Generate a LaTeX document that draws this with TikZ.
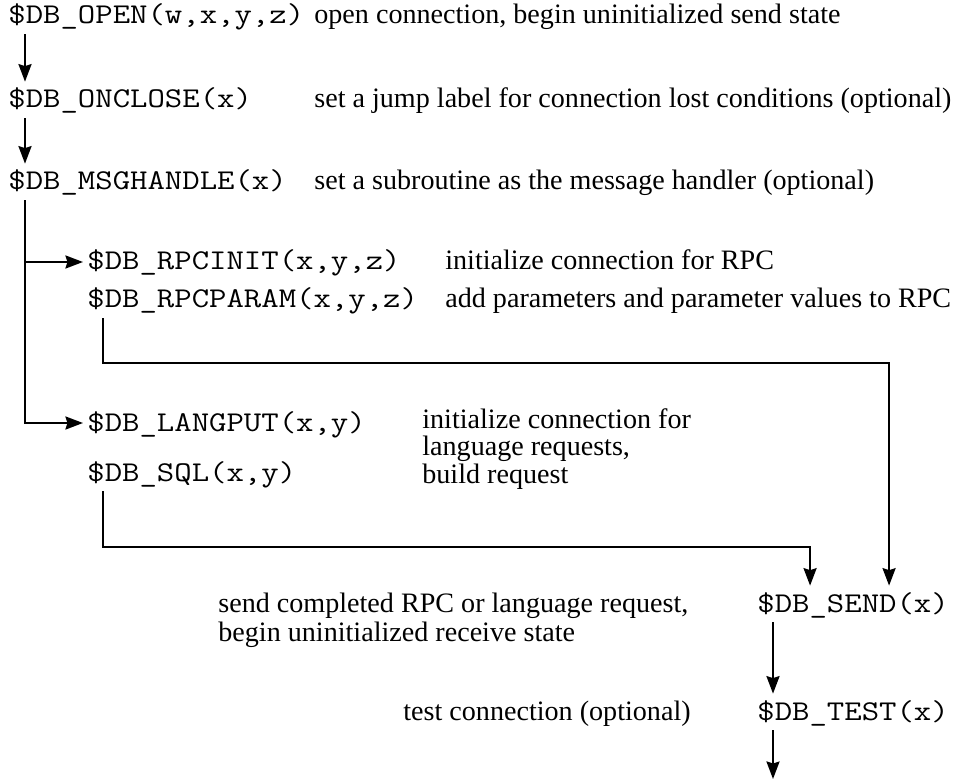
\documentclass[tikz,border=0pt]{standalone}
\usepackage{fontspec}
\setmainfont{Liberation Serif}
\setmonofont{Latin Modern Mono}[FakeStretch=1.18]
\usetikzlibrary{arrows.meta,calc}

\begin{document}
\begin{tikzpicture}[x=0.02cm,y=-0.02cm,
    call/.style={anchor=base west, inner xsep=0.08cm, inner ysep=0pt,
      text height=0.52cm, text depth=0.2cm,
      font=\fontsize{16.3}{20}\selectfont\ttfamily},
    note/.style={anchor=base west, inner sep=0pt, align=left,
      font=\fontsize{16}{15.6}\selectfont},
    flow/.style={line width=0.045cm,
      -{Stealth[length=0.35cm,width=0.26cm,inset=0.04cm]}}]
    \useasboundingbox (0,0) rectangle (960,780);

    % Calls
    \node[call] (open) at (4,24) {\$DB\_OPEN(w,x,y,z)};
    \node[call] (onclose) at (4,108) {\$DB\_ONCLOSE(x)};
    \node[call] (msghandle) at (4,190) {\$DB\_MSGHANDLE(x)};
    \node[call] (rpcinit) at (83,270) {\$DB\_RPCINIT(x,y,z)};
    \node[call] (rpcparam) at (83,308) {\$DB\_RPCPARAM(x,y,z)};
    \node[call] (langput) at (83,431) {\$DB\_LANGPUT(x,y)};
    \node[call] (sql) at (83,481) {\$DB\_SQL(x,y)};
    \node[call] (send) at (753,612) {\$DB\_SEND(x)};
    \node[call] (test) at (753,720) {\$DB\_TEST(x)};
    \coordinate (exit) at (773,779);

    % Notes
    \node[note] (openNote) at (314,24) {open connection, begin uninitialized send state};
    \node[note] (oncloseNote) at (314,108) {set a jump label for connection lost conditions (optional)};
    \node[note] (msghandleNote) at (314,190) {set a subroutine as the message handler (optional)};
    \node[note] (rpcinitNote) at (445,270) {initialize connection for RPC};
    \node[note] (rpcparamNote) at (445,308) {add parameters and parameter values to RPC};
    \node[note] (langputNote) at (422,483) {initialize connection for\\language requests,\\build request};
    \node[note, font=\fontsize{16}{16.4}\selectfont] (sendNote) at (218,641) {send completed RPC or language request,\\begin uninitialized receive state};
    \node[note] (testNote) at (403,720) {test connection (optional)};

    % Flow
    \draw[flow] ($(open.south west)+(21,0)$) -- ($(onclose.north west)+(21,0)$);
    \draw[flow] ($(onclose.south west)+(21,0)$) -- ($(msghandle.north west)+(21,0)$);
    \draw[flow] ($(msghandle.south west)+(21,0)$) |- (rpcinit.west);
    \draw[flow] ($(msghandle.south west)+(21,0)$) |- (langput.west);
    \draw[flow] ($(rpcparam.south west)+(20,0)$) -- ++(0,45) -| ($(send.north)+(36,0)$);
    \draw[flow] ($(sql.south west)+(20,0)$) -- ++(0,56) -| ($(send.north)+(-43,0)$);
    \draw[flow] ($(send.south west)+(20,0)$) -- ($(test.north west)+(20,0)$);
    \draw[flow] ($(test.south west)+(20,0)$) -- (exit);
\end{tikzpicture}
\end{document}
